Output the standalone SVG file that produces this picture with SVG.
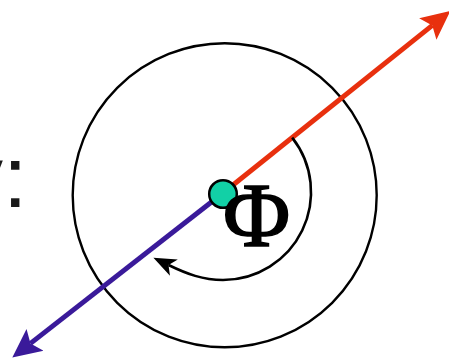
<svg xmlns="http://www.w3.org/2000/svg" width="449" height="358" viewBox="0 0 449 358">
  <style>
    .ring { fill: none; stroke: #000; stroke-width: 2.4; }
    .axis { fill: none; stroke-width: 5; stroke-linecap: butt; }
    .turn { fill: none; stroke: #000; stroke-width: 2.6; }
    .lbl { font-family: "Liberation Serif", "Times New Roman", serif; font-size: 92px; fill: #000; stroke: #000; stroke-width: 1.6; }
    .side { font-family: "Liberation Sans", Arial, sans-serif; font-size: 88px; fill: #1a1a1a; }
  </style>
  <defs>
    <marker id="arrRed" markerUnits="userSpaceOnUse" markerWidth="30" markerHeight="30" refX="5" refY="0" viewBox="0 -13 26 26" orient="auto">
      <path d="M0,-12 L25,0 L0,12 L5,0 z" fill="#e8300e"/>
    </marker>
    <marker id="arrBlue" markerUnits="userSpaceOnUse" markerWidth="30" markerHeight="30" refX="5" refY="0" viewBox="0 -13 26 26" orient="auto">
      <path d="M0,-12 L25,0 L0,12 L5,0 z" fill="#3a1a9a"/>
    </marker>
    <marker id="arrBlack" markerUnits="userSpaceOnUse" markerWidth="24" markerHeight="24" refX="5" refY="0" viewBox="0 -9 20 18" orient="auto">
      <path d="M0,-7.5 L19,0 L0,7.5 L5,0 z" fill="#000"/>
    </marker>
  </defs>

  <g id="side-label">
    <text class="side" x="27.5" y="207" text-anchor="end">y:</text>
  </g>

  <g id="outer-circle">
    <circle class="ring" cx="224.7" cy="195.3" r="152"/>
  </g>

  <g id="connectors">
    <line id="red-axis" class="axis" stroke="#e8300e" x1="223" y1="193" x2="432.3" y2="25.4" marker-end="url(#arrRed)"/>
    <line id="blue-axis" class="axis" stroke="#3a1a9a" x1="223" y1="193" x2="30.5" y2="343.4" marker-end="url(#arrBlue)"/>
    <path id="angle-arc" class="turn" d="M292.2,137.6 A88,88 0 0 1 223,280 C203,280 187,274 168.5,265" marker-end="url(#arrBlack)"/>
  </g>

  <g id="center-dot">
    <circle cx="223" cy="194" r="13.8" fill="#12d0a6" stroke="#000" stroke-width="2.5"/>
  </g>

  <g id="phi-label">
    <text class="lbl" x="223" y="245.5">Φ</text>
  </g>
</svg>
